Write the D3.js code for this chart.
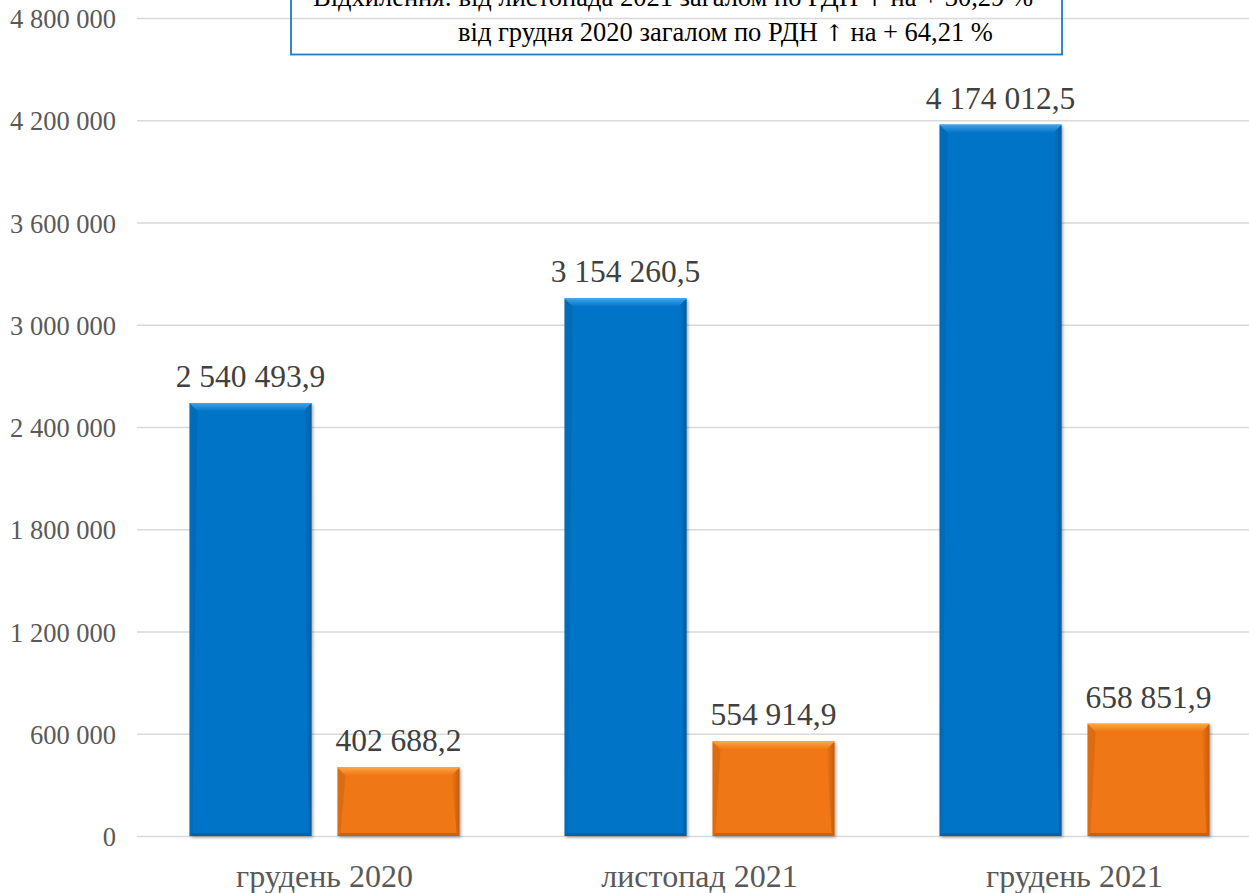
<!DOCTYPE html>
<html><head><meta charset="utf-8">
<script src="https://cdn.jsdelivr.net/npm/d3@7"></script>
<style>html,body{margin:0;padding:0;background:#fff;overflow:hidden}</style>
</head><body><svg id="c" width="1249" height="893"></svg>
<script>
const categories = ["грудень 2020", "листопад 2021", "грудень 2021"];
const seriesNames = ["A", "B"];
const seriesA = [2540493.9, 3154260.5, 4174012.5];
const seriesB = [402688.2, 554914.9, 658851.9];
const tickValues = [0, 600000, 1200000, 1800000, 2400000, 3000000, 3600000, 4200000, 4800000];
const noteLines = [["Відхилення: від листопада 2021 загалом по РДН ", "↑", " на + 30,29 %"],
                   ["від грудня 2020 загалом по РДН ", "↑", " на + 64,21 %"]];

const colors = {A: {base: "#0575C8", light: "#3FA2EA", dark: "#03589A"},
                B: {base: "#F07712", light: "#FBA445", dark: "#B9560A"}};

const loc = d3.formatLocale({decimal: ",", thousands: "\u00a0", grouping: [3], currency: ["", ""]});
const fTick = loc.format(",d");
const fVal = loc.format(",.1f");

const svg = d3.select("#c");
const font = "'Liberation Serif','Times New Roman',serif";

const y = d3.scaleLinear().domain([0, 4800000]).range([836, 18]);
const x0 = d3.scaleBand().domain(categories).range([137, 1262]);
const x1 = d3.scaleBand().domain(seriesNames).range([0, x0.bandwidth()]).paddingInner(0.176).paddingOuter(0.355);

// gridlines
svg.append("g").selectAll("line").data(tickValues).join("line")
  .attr("x1", 137).attr("x2", 1249)
  .attr("y1", d => y(d) + 0.5).attr("y2", d => y(d) + 0.5)
  .attr("stroke", "#D9D9D9").attr("stroke-width", 1.3);

// y tick labels
svg.append("g").selectAll("text").data(tickValues).join("text")
  .attr("x", 116).attr("y", d => y(d) + 10)
  .attr("text-anchor", "end").attr("font-family", font).attr("font-size", 26.5)
  .attr("fill", "#595959").text(d => fTick(d));

const defs = svg.append("defs");
for (const k of seriesNames) {
  const g = defs.append("linearGradient").attr("id", "top" + k).attr("x1", 0).attr("y1", 0).attr("x2", 0).attr("y2", 1);
  g.append("stop").attr("offset", 0).attr("stop-color", colors[k].light);
  g.append("stop").attr("offset", 1).attr("stop-color", colors[k].base);
  const s = defs.append("linearGradient").attr("id", "side" + k).attr("x1", 0).attr("y1", 0).attr("x2", 1).attr("y2", 0);
  s.append("stop").attr("offset", 0).attr("stop-color", colors[k].base);
  s.append("stop").attr("offset", 1).attr("stop-color", colors[k].dark);
}
const sh = defs.append("filter").attr("id", "shadow").attr("x", "-10%").attr("y", "-10%").attr("width", "130%").attr("height", "130%");
sh.append("feDropShadow").attr("dx", 1.5).attr("dy", 1.5).attr("stdDeviation", 1.5).attr("flood-color", "#000").attr("flood-opacity", 0.35);

const data = [];
categories.forEach((c, i) => {
  data.push({cat: c, key: "A", value: seriesA[i]});
  data.push({cat: c, key: "B", value: seriesB[i]});
});

const bars = svg.append("g").selectAll("g").data(data).join("g");
bars.each(function(d) {
  const g = d3.select(this);
  const bx = x0(d.cat) + x1(d.key), bw = x1.bandwidth();
  const top = y(d.value), bot = y(0);
  const c = colors[d.key];
  const b = 8;
  g.append("rect").attr("x", bx).attr("y", top).attr("width", bw).attr("height", bot - top)
    .attr("fill", c.base).attr("filter", "url(#shadow)");
  g.append("polygon").attr("points", [[bx + bw - b, top + b], [bx + bw, top], [bx + bw, bot], [bx + bw - 3, bot - 3]].join(" "))
    .attr("fill", "url(#side" + d.key + ")").attr("opacity", 0.8);
  g.append("polygon").attr("points", [[bx, top], [bx + b, top + b], [bx + 3, bot - 3], [bx, bot]].join(" "))
    .attr("fill", c.dark).attr("opacity", 0.35);
  g.append("polygon").attr("points", [[bx, bot], [bx + 3, bot - 3], [bx + bw - 3, bot - 3], [bx + bw, bot]].join(" "))
    .attr("fill", c.dark).attr("opacity", 0.7);
  g.append("polygon").attr("points", [[bx, top], [bx + bw, top], [bx + bw - b, top + b], [bx + b, top + b]].join(" "))
    .attr("fill", "url(#top" + d.key + ")");
  g.append("line").attr("x1", bx).attr("x2", bx + bw).attr("y1", top + 0.5).attr("y2", top + 0.5)
    .attr("stroke", c.light).attr("stroke-width", 1);
  g.append("text").attr("x", bx + bw / 2).attr("y", top - 16)
    .attr("text-anchor", "middle").attr("font-family", font).attr("font-size", 31.5)
    .attr("fill", "#404040").text(fVal(d.value));
});

// category labels
svg.append("g").selectAll("text").data(categories).join("text")
  .attr("x", d => x0(d) + x0.bandwidth() / 2).attr("y", 887)
  .attr("text-anchor", "middle").attr("font-family", font).attr("font-size", 32)
  .attr("fill", "#595959").text(d => d);

// note box
svg.append("rect").attr("x", 291).attr("y", -40).attr("width", 771).attr("height", 94.5)
  .attr("fill", "none").attr("stroke", "#1F78C1").attr("stroke-width", 1.8);
const noteX = [313, 458], noteY = [6, 41];
noteLines.forEach((parts, i) => {
  const t = svg.append("text").attr("x", noteX[i]).attr("y", noteY[i])
    .attr("font-family", font).attr("font-size", 26.5).attr("fill", "#000");
  parts.forEach((p, j) => {
    const ts = t.append("tspan").text(p);
    if (j === 1) ts.attr("font-family", "'DejaVu Serif','DejaVu Sans',serif").attr("font-size", 23).attr("fill", "#000");
  });
});
</script>
</body></html>
